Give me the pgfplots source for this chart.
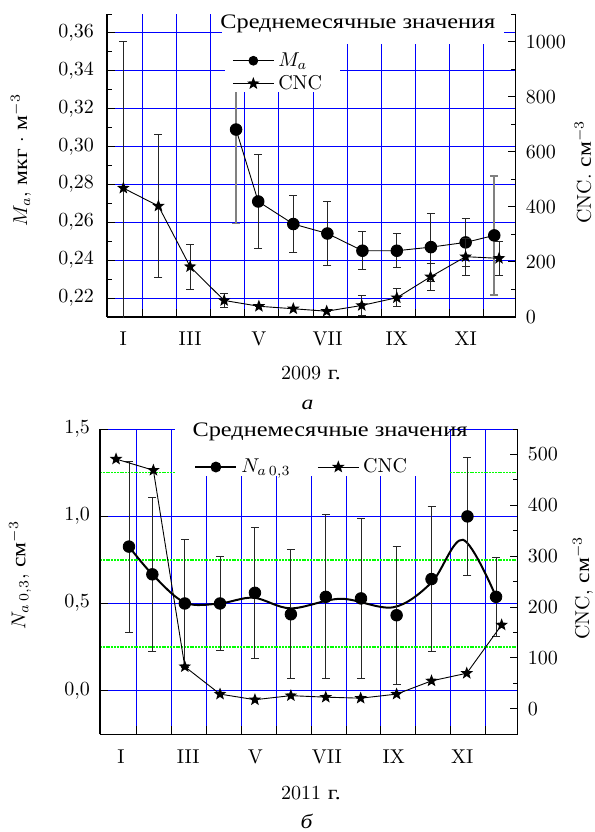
\documentclass[border=0pt]{standalone}
\usepackage{pgfplots}
\pgfplotsset{compat=1.18}
\usepackage{fontspec}
\newfontfamily\cyr{Liberation Serif}[FakeStretch=1.18]
\usetikzlibrary{plotmarks}

\pgfdeclareplotmark{fstar}{%
  \pgfpathmoveto{\pgfpointpolar{90}{\pgfplotmarksize}}%
  \pgfpathlineto{\pgfpointpolar{126}{0.42\pgfplotmarksize}}%
  \pgfpathlineto{\pgfpointpolar{162}{\pgfplotmarksize}}%
  \pgfpathlineto{\pgfpointpolar{198}{0.42\pgfplotmarksize}}%
  \pgfpathlineto{\pgfpointpolar{234}{\pgfplotmarksize}}%
  \pgfpathlineto{\pgfpointpolar{270}{0.42\pgfplotmarksize}}%
  \pgfpathlineto{\pgfpointpolar{306}{\pgfplotmarksize}}%
  \pgfpathlineto{\pgfpointpolar{342}{0.42\pgfplotmarksize}}%
  \pgfpathlineto{\pgfpointpolar{18}{\pgfplotmarksize}}%
  \pgfpathlineto{\pgfpointpolar{54}{0.42\pgfplotmarksize}}%
  \pgfpathclose
  \pgfusepathqfill
}

\pgfplotsset{
  base/.style={
    scale only axis,
    tick align=inside,
    tick style={black, line width=0.5pt},
    major tick length=4pt, minor tick length=2.5pt,
    axis line style={-, line width=0.6pt},
    scaled y ticks=false,
    legend image code/.code={\draw[mark repeat=2,mark phase=2,##1] plot coordinates {(0cm,0cm)(0.36cm,0cm)(0.72cm,0cm)};},
  },
  errb/.style={error bars/.cd, y dir=both, y explicit,
    error bar style={line width=0.45pt, black!85},
    error mark options={rotate=90, mark size=2pt, line width=0.45pt, black!85}},
}

\begin{document}
\begin{tikzpicture}

%%%%%%%%%%%%%%%%%%%% TOP CHART (a) %%%%%%%%%%%%%%%%%%%%
\begin{axis}[base,
  at={(53.5pt,-158.5pt)}, anchor=south west,
  width=204.35pt, height=151.5pt,
  xmin=0.45, xmax=12.45, ymin=0.21, ymax=0.37,
  axis x line*=bottom, axis y line*=left,
  xtick={1.5,2.5,3.5,4.5,5.5,6.5,7.5,8.5,9.5,10.5,11.5}, xticklabels={},
  extra x ticks={0.93,2.89,4.91,6.93,8.96,10.98},
  extra x tick labels={I,III,V,VII,IX,XI},
  extra x tick style={grid=none, major tick length=0pt, tick label style={yshift=-4pt}},
  ytick={0.22,0.24,0.26,0.28,0.30,0.32,0.34,0.36},
  minor ytick={0.21,0.23,0.25,0.27,0.29,0.31,0.33,0.35,0.37},
  xmajorgrids, ymajorgrids,
  major grid style={blue, line width=0.5pt},
  yticklabel style={/pgf/number format/fixed, /pgf/number format/fixed zerofill,
    /pgf/number format/precision=2, /pgf/number format/use comma, xshift=-3pt},
]
% grey error bars
\addplot[draw=none, mark=none, error bars/.cd, y dir=both, y explicit,
    error bar style={line width=0.8pt, gray},
    error mark options={rotate=90, mark size=2pt, line width=0.8pt, gray}]
  coordinates {(4.24,0.309) +- (0,0.0497) (11.82,0.2531) +- (0,0.0315)};
% M_a
\addplot[black, line width=0.45pt, mark=*, mark size=2.9pt, mark options={solid, fill=black}, errb]
  coordinates {
  (4.24,0.309) +- (0,0)
  (4.89,0.271) +- (0,0.025)
  (5.92,0.2591) +- (0,0.015)
  (6.92,0.2541) +- (0,0.017)
  (7.95,0.245) +- (0,0.010)
  (8.96,0.245) +- (0,0.009)
  (9.96,0.2469) +- (0,0.018)
  (10.98,0.2494) +- (0,0.0125)
  (11.82,0.2531) +- (0,0)
  };
\end{axis}

\begin{axis}[base,
  at={(53.5pt,-158.5pt)}, anchor=south west,
  width=204.35pt, height=151.5pt,
  xmin=0.45, xmax=12.45, ymin=0, ymax=1100,
  axis x line=none, axis y line*=right,
  ytick={0,200,400,600,800,1000},
  minor ytick={100,300,500,700,900,1100},
  yticklabel style={/pgf/number format/1000 sep={}, xshift=1.5pt},
  legend style={draw=none, fill=none, at={(rel axis cs:0.2912,0.901)}, anchor=north west,
    row sep=-1pt, font=\normalsize, nodes={anchor=west}},
  legend cell align=left,
]
\fill[white] (rel axis cs:0.2814,0.901) rectangle (rel axis cs:0.9714,1.0);
\fill[white] (rel axis cs:0.2887,0.7426) rectangle (rel axis cs:0.5701,1.0);
\addlegendimage{black, line width=0.45pt, mark=*, mark size=2.2pt, mark options={fill=black}}
\addlegendentry{$M_a$}
\addplot[black, line width=0.45pt, mark=fstar, mark size=3.3pt, errb]
  coordinates {
  (0.93,468) +- (0,531)
  (1.96,403) +- (0,258)
  (2.89,183) +- (0,82)
  (3.89,60) +- (0,25)
  (4.91,39) +- (0,0)
  (5.92,30) +- (0,0)
  (6.90,21) +- (0,0)
  (7.93,42) +- (0,36)
  (8.96,70) +- (0,33)
  (9.95,146) +- (0,48)
  (10.98,219) +- (0,68)
  (11.96,213) +- (0,62)
  };
\addlegendentry{CNC}
\end{axis}

%%%%%%%%%%%%%%%%%%%% BOTTOM CHART (b) %%%%%%%%%%%%%%%%%%%%
\begin{axis}[base,
  at={(50pt,-367.15pt)}, anchor=south west,
  width=208.85pt, height=152.65pt,
  xmin=0.45, xmax=12.42, ymin=-0.25, ymax=1.5,
  axis x line*=bottom, axis y line*=left,
  xtick={1.5,2.5,3.5,4.5,5.5,6.5,7.5,8.5,9.5,10.5,11.5}, xticklabels={},
  extra x ticks={1.05,2.98,4.9,6.95,8.87,10.83},
  extra x tick labels={I,III,V,VII,IX,XI},
  extra x tick style={grid=none, major tick length=0pt, tick label style={yshift=-4pt}},
  ytick={0,0.5,1,1.5},
  minor ytick={0.25,0.75,1.25},
  minor tick length=0pt,
  xmajorgrids, ymajorgrids, yminorgrids,
  major grid style={blue, line width=0.5pt},
  minor grid style={green, dash pattern=on 1pt off 0.4pt, line width=0.75pt},
  yticklabel style={/pgf/number format/fixed, /pgf/number format/fixed zerofill,
    /pgf/number format/precision=1, /pgf/number format/use comma, xshift=-1.5pt},
]
\addplot[black, line width=1pt, smooth, tension=0.55, mark=none]
  coordinates {
  (1.28,0.826) (1.95,0.667) (2.88,0.505) (3.88,0.50) (4.85,0.533)
  (5.92,0.472) (7.35,0.527) (8.85,0.478) (9.95,0.62) (10.85,0.865) (11.80,0.538)
  };
\addplot[only marks, black, mark=*, mark size=2.9pt, mark options={fill=black}, errb]
  coordinates {
  (1.28,0.826) +- (0,0.49)
  (1.95,0.667) +- (0,0.443)
  (2.88,0.500) +- (0,0.365)
  (3.89,0.500) +- (0,0.272)
  (4.89,0.561) +- (0,0.375)
  (5.92,0.438) +- (0,0.37)
  (6.92,0.538) +- (0,0.47)
  (7.93,0.529) +- (0,0.456)
  (8.95,0.4325) +- (0,0.395)
  (9.95,0.640) +- (0,0.415)
  (10.98,0.999) +- (0,0.337)
  (11.80,0.538) +- (0,0.225)
  };
\end{axis}

\begin{axis}[base,
  at={(50pt,-367.15pt)}, anchor=south west,
  width=208.85pt, height=152.65pt,
  xmin=0.45, xmax=12.42, ymin=-50, ymax=550,
  axis x line=none, axis y line*=right,
  ytick={0,100,200,300,400,500},
  minor ytick={-50,50,150,250,350,450,550},
  yticklabel style={xshift=1.5pt},
  legend style={draw=none, fill=none, at={(rel axis cs:0.2107,0.931)}, anchor=north west,
    font=\normalsize},
  legend cell align=left,
  legend columns=2,
]
\fill[white] (rel axis cs:0.1796,0.8477) rectangle (rel axis cs:0.8355,1.0);
\addlegendimage{black, line width=1pt, mark=*, mark size=2.2pt, mark options={fill=black}}
\addlegendentry{\makebox[36pt][l]{$N_{a\,0{,}3}$}}
\addplot[black, line width=0.45pt, mark=fstar, mark size=3.3pt]
  coordinates {
  (0.91,491) (1.98,469) (2.88,83) (3.89,29) (4.89,18) (5.92,26)
  (6.92,23) (7.92,21) (8.95,29) (9.95,55) (10.96,70) (11.96,165)
  };
\addlegendentry{CNC}
\end{axis}

%%%%%%%%%%%%%%%%%%%% titles and labels %%%%%%%%%%%%%%%%%%%%
\node[inner sep=0pt] at (178.9pt,-11.8pt) {\cyr\fontsize{10.3}{12}\selectfont Среднемесячные значения};
\node[inner sep=0pt] at (165pt,-216pt) {\cyr\fontsize{10.3}{12}\selectfont Среднемесячные значения};

\node[rotate=90] at (10.5pt,-80pt) {$M_a$, {\cyr мкг} $\cdot$ {\cyr м}$^{-3}$};
\node[rotate=90] at (291.5pt,-86pt) {CNC. {\cyr см}$^{-3}$};
\node at (155.5pt,-186.5pt) {2009 {\cyr г.}};
\node at (153.7pt,-202.5pt) {{\cyr\itshape а}};

\node[rotate=90] at (10pt,-287.5pt) {$N_{a\,0{,}3}$, {\cyr см}$^{-3}$};
\node[rotate=90] at (291.5pt,-294pt) {CNC, {\cyr см}$^{-3}$};
\node at (155.5pt,-396.5pt) {2011 {\cyr г.}};
\node at (153.3pt,-410.8pt) {{\cyr\itshape б}};

\pgfresetboundingbox
\useasboundingbox (0pt,0pt) rectangle (297.5pt,-416pt);
\end{tikzpicture}
\end{document}
